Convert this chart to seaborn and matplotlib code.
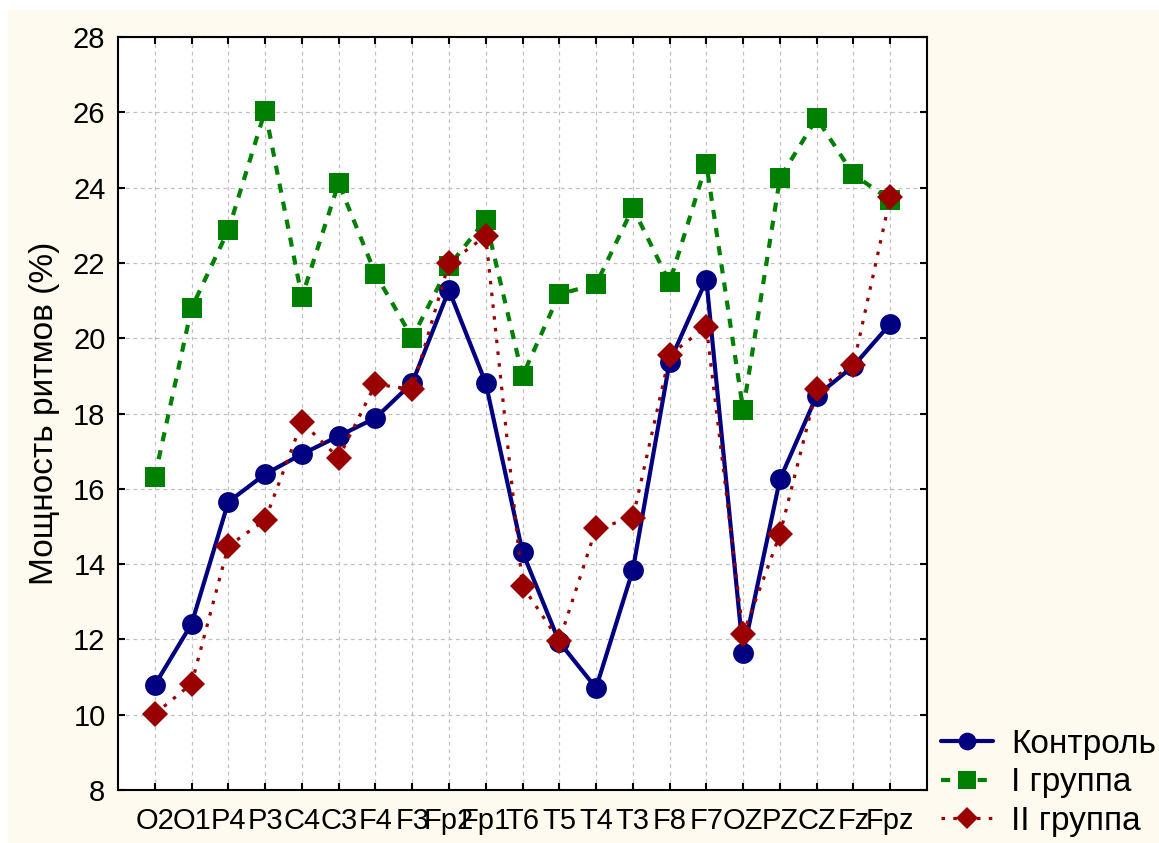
import matplotlib
matplotlib.use("Agg")
import matplotlib.pyplot as plt
from matplotlib.patches import Rectangle
import seaborn as sns
import pandas as pd

channels = ["O2", "O1", "P4", "P3", "C4", "C3", "F4", "F3", "Fp2", "Fp1", "T6",
            "T5", "T4", "T3", "F8", "F7", "OZ", "PZ", "CZ", "Fz", "Fpz"]
kontrol = [10.79, 12.41, 15.65, 16.39, 16.92, 17.40, 17.88, 18.81, 21.28, 18.81, 14.32,
           11.93, 10.71, 13.84, 19.37, 21.55, 11.64, 16.25, 18.47, 19.26, 20.38]
group1 = [16.31, 20.80, 22.87, 26.04, 21.09, 24.12, 21.71, 20.01, 21.92, 23.14, 19.00,
          21.17, 21.43, 23.46, 21.48, 24.63, 18.09, 24.25, 25.84, 24.35, 23.67]
group2 = [10.02, 10.82, 14.48, 15.17, 17.77, 16.82, 18.78, 18.64, 22.00, 22.71, 13.42,
          11.96, 14.95, 15.22, 19.55, 20.31, 12.14, 14.79, 18.65, 19.29, 23.74]
series_names = ["Контроль", "I группа", "II группа"]
y_ticks = [8, 10, 12, 14, 16, 18, 20, 22, 24, 26, 28]
y_label = "Мощность ритмов (%)"

df = pd.DataFrame({"channel": channels, "k": kontrol, "g1": group1, "g2": group2})

sns.set_style("ticks")
plt.rcParams["font.family"] = ["Liberation Sans", "DejaVu Sans"]
plt.rcParams["text.color"] = "black"
plt.rcParams["axes.labelcolor"] = "black"
plt.rcParams["xtick.color"] = "black"
plt.rcParams["ytick.color"] = "black"

W, H = 1159, 843
fig = plt.figure(figsize=(W / 100, H / 100), dpi=100, facecolor="white")
cream = "#FFFAEF"
fig.patches.append(Rectangle((8 / W, 0), 1 - 8 / W, 1 - 10 / H, transform=fig.transFigure,
                             facecolor=cream, edgecolor="none", zorder=-10))
ax = fig.add_axes([118 / W, 1 - 790 / H, (927 - 118) / W, (790 - 37) / H])
ax.set_facecolor("white")

sns.lineplot(data=df, x="channel", y="g1", ax=ax, color="#008000", linewidth=3,
             linestyle=(0, (2.2, 2.2)), marker="s", markersize=15, markeredgewidth=0,
             label=series_names[1], zorder=3)
sns.lineplot(data=df, x="channel", y="k", ax=ax, color="#000080", linewidth=3,
             linestyle="-", marker="o", markersize=15, markeredgewidth=0,
             label=series_names[0], zorder=4)
sns.lineplot(data=df, x="channel", y="g2", ax=ax, color="#9B0000", linewidth=2.3,
             linestyle=(0, (1.1, 2.6)), marker="D", markersize=13.5, markeredgewidth=0,
             label=series_names[2], zorder=5)

ax.set_xlim(-1, len(channels))
ax.set_ylim(8, 28)
ax.set_yticks(y_ticks)
ax.set_xticks(range(len(channels)))
ax.set_xticklabels(channels)
ax.set_xlabel("")
ax.set_ylabel(y_label, fontsize=24, color="black")
ax.yaxis.set_label_coords(-0.072, 0.5)

ax.grid(True, color="#C0C0C0", linestyle=(0, (3, 3)), linewidth=0.9)
ax.set_axisbelow(True)
for s in ax.spines.values():
    s.set_visible(True)
    s.set_color("black")
    s.set_linewidth(1.5)
ax.tick_params(axis="both", direction="in", length=5, width=1.5, labelsize=21,
               top=True, right=True, colors="black")
ax.tick_params(axis="y", pad=9)
ax.tick_params(axis="x", pad=12)

h, l = ax.get_legend_handles_labels()
order = [l.index(n) for n in series_names]
leg = ax.legend([h[i] for i in order], [l[i] for i in order], loc="upper left",
                bbox_to_anchor=(941 / W, 1 - 729 / H), bbox_transform=fig.transFigure,
                frameon=False, fontsize=24, handlelength=1.55, handletextpad=0.55,
                labelspacing=0.22, borderpad=0, borderaxespad=0, markerscale=0.85)
for t in leg.get_texts():
    t.set_color("black")

fig.savefig("out.png", dpi=100, facecolor=fig.get_facecolor())
